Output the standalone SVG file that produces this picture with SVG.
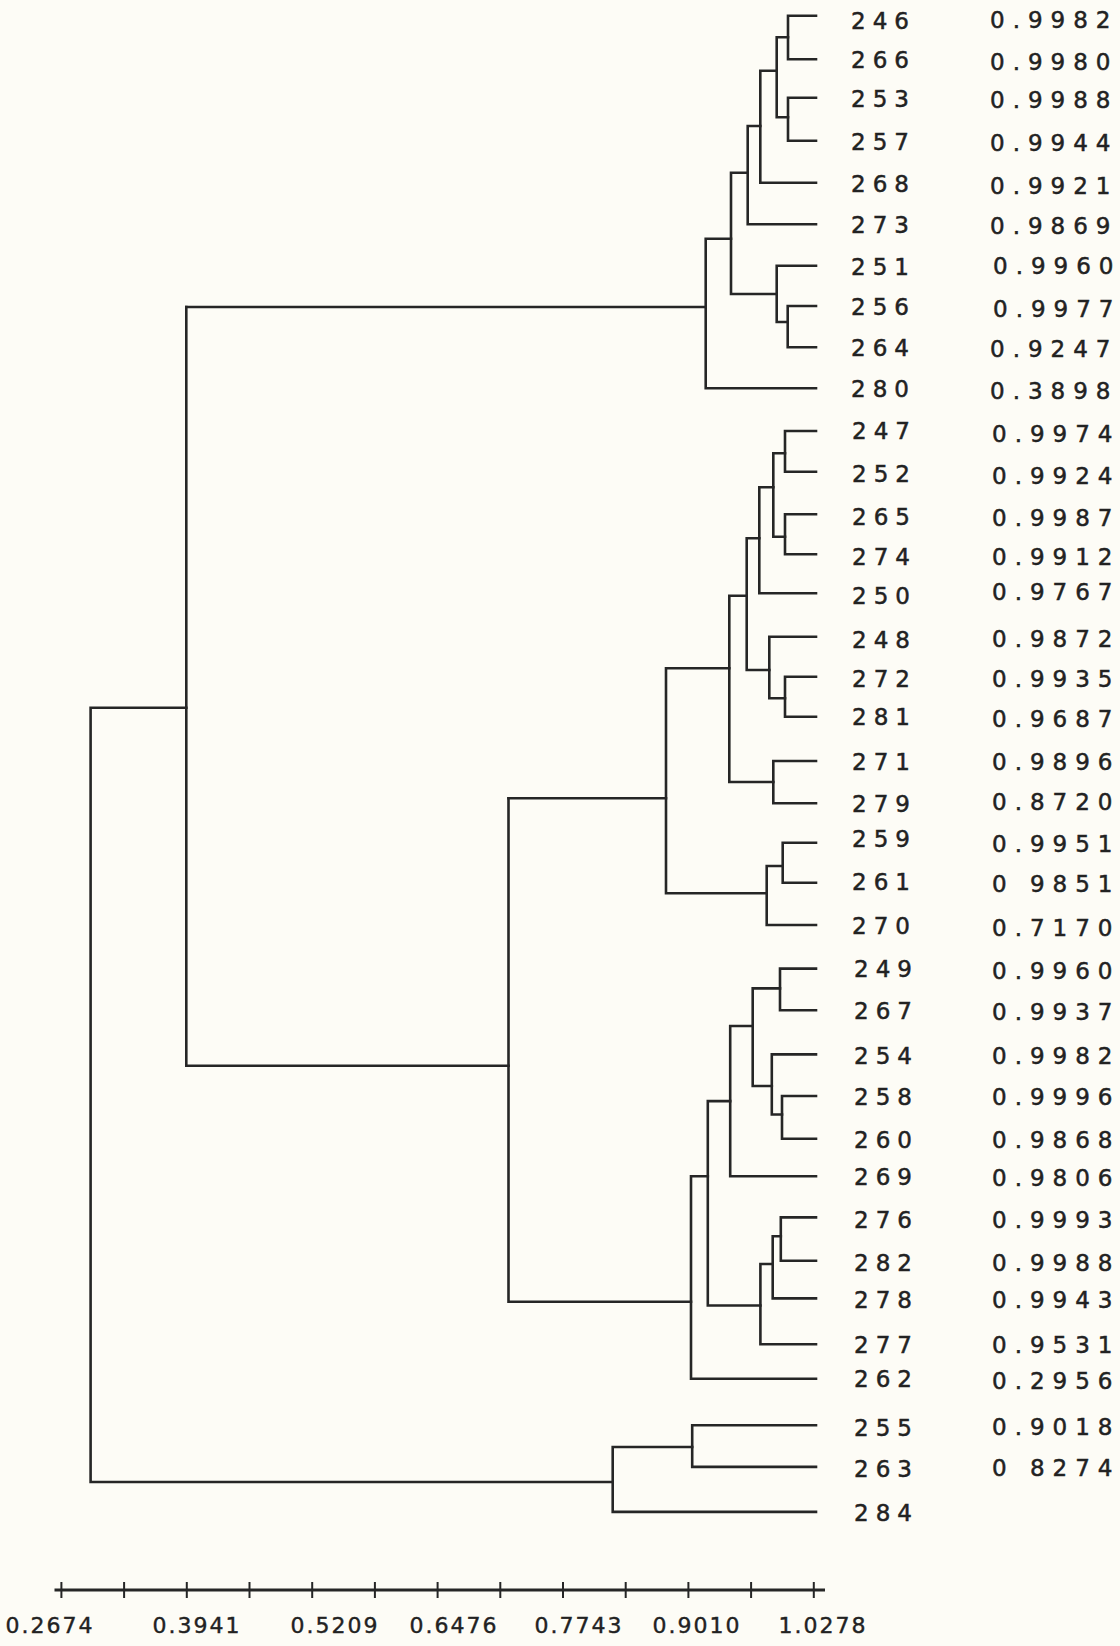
<svg xmlns="http://www.w3.org/2000/svg" width="1120" height="1646" viewBox="0 0 1120 1646">
<style>
.bg{fill:#fdfcf6}
.ln{fill:none;stroke:#262626;stroke-width:2.6;stroke-linejoin:miter;stroke-linecap:square}
.ax{fill:none;stroke:#262626;stroke-width:3}
.tk{fill:none;stroke:#262626;stroke-width:2}
.lab{font-family:"DejaVu Sans","Liberation Sans",sans-serif;font-size:23px;letter-spacing:7px;fill:#222;stroke:#222;stroke-width:0.5}
.val{font-family:"DejaVu Sans","Liberation Sans",sans-serif;font-size:23px;letter-spacing:8px;fill:#222;stroke:#222;stroke-width:0.5}
.axl{font-family:"DejaVu Sans","Liberation Sans",sans-serif;font-size:22px;letter-spacing:2px;fill:#222;stroke:#222;stroke-width:0.4;text-anchor:middle}
</style>
<rect class="bg" x="0" y="0" width="1120" height="1646"/>

<g id="connectors">
<path class="ln" d="M816,15.7 H788 V59.3 H816"/>
<path class="ln" d="M816,97.7 H788 V140.7 H816"/>
<path class="ln" d="M788,37.3 H776.7 V117.3 H788"/>
<path class="ln" d="M776.7,70.7 H760.3 V182.7 H816"/>
<path class="ln" d="M760.3,126 H747.7 V224.3 H816"/>
<path class="ln" d="M816,306 H787.7 V347.3 H816"/>
<path class="ln" d="M816,265.7 H776.7 V322 H787.7"/>
<path class="ln" d="M747.7,172.7 H731 V294 H776.7"/>
<path class="ln" d="M731,238.7 H705.7 V388.3 H816"/>
<path class="ln" d="M705.7,307 H186.3"/>
<path class="ln" d="M816,431 H785 V471.7 H816"/>
<path class="ln" d="M816,514.3 H785 V554.3 H816"/>
<path class="ln" d="M785,453.3 H773.3 V536.7 H785"/>
<path class="ln" d="M773.3,487.3 H759.3 V593.3 H816"/>
<path class="ln" d="M816,676.7 H785 V716.7 H816"/>
<path class="ln" d="M816,636.7 H769.3 V698.3 H785"/>
<path class="ln" d="M759.3,538.3 H746.7 V670 H769.3"/>
<path class="ln" d="M816,761 H773.3 V803.3 H816"/>
<path class="ln" d="M746.7,595.7 H729.3 V782 H773.3"/>
<path class="ln" d="M816,842.7 H782.7 V882.7 H816"/>
<path class="ln" d="M782.7,866 H766.7 V925 H816"/>
<path class="ln" d="M729.3,668.3 H666 V893.3 H766.7"/>
<path class="ln" d="M666,798.3 H508.5"/>
<path class="ln" d="M816,968.6 H780 V1010.2 H816"/>
<path class="ln" d="M816,1096 H782 V1138.7 H816"/>
<path class="ln" d="M816,1054.4 H771.8 V1114.5 H782"/>
<path class="ln" d="M780,988.4 H752.7 V1086 H771.8"/>
<path class="ln" d="M752.7,1026 H730.2 V1176.2 H816"/>
<path class="ln" d="M816,1217.4 H780.8 V1260.8 H816"/>
<path class="ln" d="M780.8,1236.3 H772.7 V1298.4 H816"/>
<path class="ln" d="M772.7,1264 H760.4 V1344.3 H816"/>
<path class="ln" d="M730.2,1101.1 H707.8 V1305.5 H760.4"/>
<path class="ln" d="M707.8,1176.2 H691 V1378.7 H816"/>
<path class="ln" d="M691,1301.7 H508.5 V798.3"/>
<path class="ln" d="M508.5,1065.7 H186.3 V307"/>
<path class="ln" d="M186.3,707.7 H90.6 V1482 H612.7"/>
<path class="ln" d="M816,1425.3 H692.2 V1466.9 H816"/>
<path class="ln" d="M692.2,1447 H612.7 V1511.9 H816"/>
</g>

<g id="leaf-246"><text class="lab" x="851" y="28.5">246</text><text class="val" x="990" y="27.5">0.9982</text></g>
<g id="leaf-266"><text class="lab" x="851" y="67.8">266</text><text class="val" x="990" y="70.2">0.9980</text></g>
<g id="leaf-253"><text class="lab" x="851" y="106.8">253</text><text class="val" x="990" y="107.5">0.9988</text></g>
<g id="leaf-257"><text class="lab" x="851" y="150.2">257</text><text class="val" x="990" y="151.2">0.9944</text></g>
<g id="leaf-268"><text class="lab" x="851" y="191.8">268</text><text class="val" x="990" y="193.5">0.9921</text></g>
<g id="leaf-273"><text class="lab" x="851" y="232.5">273</text><text class="val" x="990" y="233.5">0.9869</text></g>
<g id="leaf-251"><text class="lab" x="851" y="275.2">251</text><text class="val" x="993" y="274.2">0.9960</text></g>
<g id="leaf-256"><text class="lab" x="851" y="314.5">256</text><text class="val" x="993" y="316.8">0.9977</text></g>
<g id="leaf-264"><text class="lab" x="851" y="355.8">264</text><text class="val" x="990" y="356.8">0.9247</text></g>
<g id="leaf-280"><text class="lab" x="851" y="396.8">280</text><text class="val" x="990" y="399.2">0.3898</text></g>
<g id="leaf-247"><text class="lab" x="852" y="438.5">247</text><text class="val" x="992" y="441.8">0.9974</text></g>
<g id="leaf-252"><text class="lab" x="852" y="481.8">252</text><text class="val" x="992" y="483.5">0.9924</text></g>
<g id="leaf-265"><text class="lab" x="852" y="524.5">265</text><text class="val" x="992" y="526.2">0.9987</text></g>
<g id="leaf-274"><text class="lab" x="852" y="564.5">274</text><text class="val" x="992" y="565.2">0.9912</text></g>
<g id="leaf-250"><text class="lab" x="852" y="603.5">250</text><text class="val" x="992" y="600.2">0.9767</text></g>
<g id="leaf-248"><text class="lab" x="852" y="647.8">248</text><text class="val" x="992" y="646.8">0.9872</text></g>
<g id="leaf-272"><text class="lab" x="852" y="686.8">272</text><text class="val" x="992" y="686.8">0.9935</text></g>
<g id="leaf-281"><text class="lab" x="852" y="725.2">281</text><text class="val" x="992" y="726.8">0.9687</text></g>
<g id="leaf-271"><text class="lab" x="852" y="770.2">271</text><text class="val" x="992" y="770.2">0.9896</text></g>
<g id="leaf-279"><text class="lab" x="852" y="811.8">279</text><text class="val" x="992" y="810.2">0.8720</text></g>
<g id="leaf-259"><text class="lab" x="852" y="846.8">259</text><text class="val" x="992" y="851.8">0.9951</text></g>
<g id="leaf-261"><text class="lab" x="852" y="890.2">261</text><text class="val" x="992" y="891.8">0 9851</text></g>
<g id="leaf-270"><text class="lab" x="852" y="933.5">270</text><text class="val" x="992" y="935.5">0.7170</text></g>
<g id="leaf-249"><text class="lab" x="854" y="977.1">249</text><text class="val" x="992" y="979.1">0.9960</text></g>
<g id="leaf-267"><text class="lab" x="854" y="1018.5">267</text><text class="val" x="992" y="1019.5">0.9937</text></g>
<g id="leaf-254"><text class="lab" x="854" y="1064.1">254</text><text class="val" x="992" y="1064.1">0.9982</text></g>
<g id="leaf-258"><text class="lab" x="854" y="1105.2">258</text><text class="val" x="992" y="1104.5">0.9996</text></g>
<g id="leaf-260"><text class="lab" x="854" y="1148">260</text><text class="val" x="992" y="1148">0.9868</text></g>
<g id="leaf-269"><text class="lab" x="854" y="1184.5">269</text><text class="val" x="992" y="1185.5">0.9806</text></g>
<g id="leaf-276"><text class="lab" x="854" y="1227.8">276</text><text class="val" x="992" y="1227.8">0.9993</text></g>
<g id="leaf-282"><text class="lab" x="854" y="1270.5">282</text><text class="val" x="992" y="1270.5">0.9988</text></g>
<g id="leaf-278"><text class="lab" x="854" y="1308.1">278</text><text class="val" x="992" y="1308.1">0.9943</text></g>
<g id="leaf-277"><text class="lab" x="854" y="1352.8">277</text><text class="val" x="992" y="1352.8">0.9531</text></g>
<g id="leaf-262"><text class="lab" x="854" y="1387.2">262</text><text class="val" x="992" y="1388.5">0.2956</text></g>
<g id="leaf-255"><text class="lab" x="854" y="1435.8">255</text><text class="val" x="992" y="1434.5">0.9018</text></g>
<g id="leaf-263"><text class="lab" x="854" y="1477.3">263</text><text class="val" x="992" y="1475.5">0 8274</text></g>
<g id="leaf-284"><text class="lab" x="854" y="1520.5">284</text></g>

<g id="axis">
<path class="ax" d="M54.5,1590 H825"/>
<path class="tk" d="M61.4,1582 V1598 M124.1,1582 V1598 M186.8,1582 V1598 M249.5,1582 V1598 M312.2,1582 V1598 M374.9,1582 V1598 M437.6,1582 V1598 M500.3,1582 V1598 M563,1582 V1598 M625.7,1582 V1598 M688.4,1582 V1598 M751.1,1582 V1598 M813.8,1582 V1598"/>
<text class="axl" x="50" y="1633">0.2674</text>
<text class="axl" x="197" y="1633">0.3941</text>
<text class="axl" x="335" y="1633">0.5209</text>
<text class="axl" x="454" y="1633">0.6476</text>
<text class="axl" x="579" y="1633">0.7743</text>
<text class="axl" x="697" y="1633">0.9010</text>
<text class="axl" x="823" y="1633">1.0278</text>
</g>
</svg>
